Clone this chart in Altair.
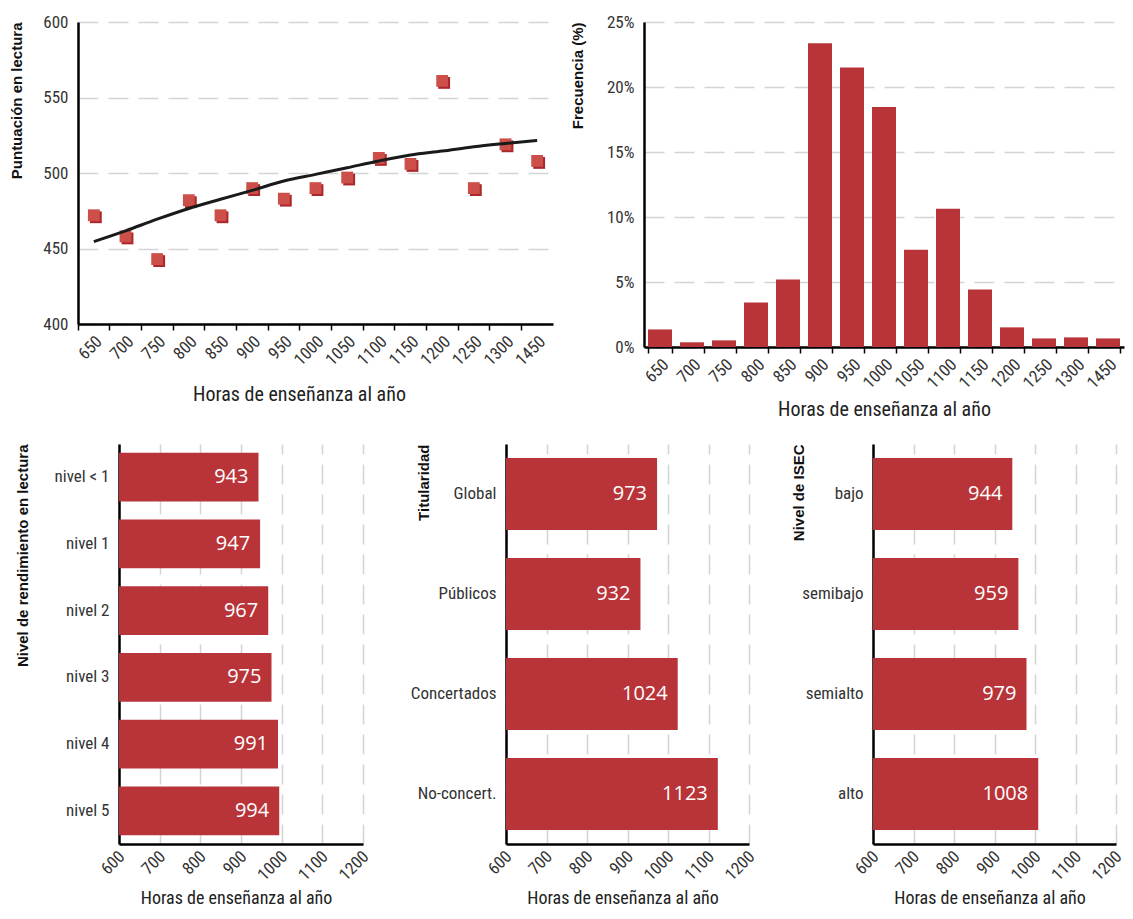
import altair as alt
import pandas as pd

# ---------------- data ----------------
hours = ["650", "700", "750", "800", "850", "900", "950", "1000", "1050",
         "1100", "1150", "1200", "1250", "1300", "1450"]
scores = [472, 458, 443, 482, 472, 490, 483, 490, 497, 510, 506, 561, 490, 519, 508]
trend = [454.6, 461.7, 469.4, 476.5, 482.6, 488.5, 494.7, 499.1, 503.5,
         508.0, 511.9, 514.5, 517.4, 519.6, 521.6]
freq = [1.35, 0.36, 0.51, 3.43, 5.19, 23.37, 21.5, 18.46, 7.49, 10.63,
        4.42, 1.51, 0.66, 0.74, 0.66]

lvl_cats = ["nivel < 1", "nivel 1", "nivel 2", "nivel 3", "nivel 4", "nivel 5"]
lvl_vals = [943, 947, 967, 975, 991, 994]
tit_cats = ["Global", "Públicos", "Concertados", "No-concert."]
tit_vals = [973, 932, 1024, 1123]
isec_cats = ["bajo", "semibajo", "semialto", "alto"]
isec_vals = [944, 959, 979, 1008]

score_ticks = [400, 450, 500, 550, 600]
freq_ticks = [0, 5, 10, 15, 20, 25]
hour_ticks = [600, 700, 800, 900, 1000, 1100, 1200]

# ---------------- style ----------------
RED = "#b83439"
PT = "#cc4f49"
PT_SH = "#ab272b"
FONT = "'Liberation Sans Narrow', 'Roboto Condensed', 'DejaVu Sans Condensed', Roboto, sans-serif"
BOLD = "'Liberation Sans', Arial, sans-serif"
VAL_FONT = "'Open Sans', 'Liberation Sans', sans-serif"
LBL = "#333333"
GRID = "#d4d4d4"
DASH = [20, 10]

XTITLE = "Horas de enseñanza al año"


def spacer(w, h=1):
    return alt.Chart(pd.DataFrame({"v": [0]})).mark_point(opacity=0, size=1).encode(
        x=alt.X("v:Q", axis=None), y=alt.Y("v:Q", axis=None)
    ).properties(width=w, height=h)


# ---------------- panel A: scatter ----------------
WA, HA = 475, 302
scat_df = pd.DataFrame({"h": hours, "score": scores, "trend": trend})

xA = alt.X("h:N", sort=hours,
           scale=alt.Scale(type="band", paddingInner=0, paddingOuter=0),
           axis=alt.Axis(title=XTITLE, bandPosition=0, labelAngle=-45,
                         ticks=True, tickSize=6, tickColor="black", tickWidth=1.5,
                         domainColor="black", domainWidth=2.5, grid=False,
                         labelFont=FONT, labelFontSize=17, labelColor=LBL, labelPadding=3,
                         titleFont=FONT, titleFontSize=20, titleFontWeight="normal",
                         titleColor="#222", titleX=221, titleY=76, titleAlign="center",
                         titleBaseline="alphabetic"))
yA_axis = alt.Axis(values=score_ticks, title="Puntuación en lectura", grid=True,
                   gridDash=DASH, gridColor=GRID, gridWidth=1.5, ticks=False,
                   domainColor="black", domainWidth=2.5,
                   labelFont=FONT, labelFontSize=17, labelColor=LBL, labelPadding=10,
                   titleFont=BOLD, titleFontSize=15, titleFontWeight="bold", titleColor="#111",
                   titleX=-57, titleY=0, titleAlign="right", titleBaseline="alphabetic")
yA_scale = alt.Scale(domain=[400, 600], nice=False, zero=False)

baseA = alt.Chart(scat_df)
shadow = baseA.mark_square(size=140, color=PT_SH, opacity=1, xOffset=2, yOffset=2).encode(
    x=xA, y=alt.Y("score:Q", scale=yA_scale, axis=yA_axis))
front = baseA.mark_square(size=140, color=PT, opacity=1).encode(
    x=xA, y=alt.Y("score:Q", scale=yA_scale, axis=yA_axis))
line = baseA.mark_line(color="#1a1a1a", strokeWidth=3, interpolate="monotone").encode(
    x=xA, y=alt.Y("trend:Q", scale=yA_scale, axis=yA_axis))
panelA = alt.layer(shadow, front, line).properties(width=WA, height=HA)

# ---------------- panel B: histogram ----------------
WB, HB = 480, 325
hist_df = pd.DataFrame({"h": hours, "freq": freq})
panelB = alt.Chart(hist_df).mark_bar(color=RED).encode(
    x=alt.X("h:N", sort=hours,
            scale=alt.Scale(paddingInner=0.25, paddingOuter=0.125),
            axis=alt.Axis(title=XTITLE, tickBand="extent", labelAngle=-45,
                          ticks=True, tickSize=6, tickColor="black", tickWidth=1.5,
                          domainColor="black", domainWidth=2.5, grid=False,
                          labelFont=FONT, labelFontSize=17, labelColor=LBL, labelPadding=3,
                          titleFont=FONT, titleFontSize=20, titleFontWeight="normal",
                          titleColor="#222", titleX=WB / 2, titleY=68, titleAlign="center",
                          titleBaseline="alphabetic")),
    y=alt.Y("freq:Q", scale=alt.Scale(domain=[0, 25], nice=False),
            axis=alt.Axis(values=freq_ticks, labelExpr="datum.value + '%'",
                          title="Frecuencia (%)", grid=True, gridDash=DASH,
                          gridColor=GRID, gridWidth=1.5, ticks=False,
                          domainColor="black", domainWidth=2.5,
                          labelFont=FONT, labelFontSize=17, labelColor=LBL, labelPadding=10,
                          titleFont=BOLD, titleFontSize=15, titleFontWeight="bold",
                          titleColor="#111", titleX=-62, titleY=0, titleAlign="right",
                          titleBaseline="alphabetic")),
).properties(width=WB, height=HB)


# ---------------- bottom panels ----------------
def hbar(cats, vals, ytitle, w, h, tx, pin, pout):
    df = pd.DataFrame({"c": cats, "v": vals})
    y = alt.Y("c:N", sort=cats, scale=alt.Scale(paddingInner=pin, paddingOuter=pout),
              axis=alt.Axis(title=ytitle, ticks=False, domainColor="black", domainWidth=2.5,
                            labelFont=FONT, labelFontSize=17, labelColor=LBL, labelPadding=10,
                            titleFont=BOLD, titleFontSize=15, titleFontWeight="bold",
                            titleColor="#111", titleX=tx, titleY=0, titleAlign="right",
                            titleBaseline="alphabetic"))
    xs = alt.Scale(domain=[600, 1200], nice=False, zero=False)
    xax = alt.Axis(values=hour_ticks, format="d", title=XTITLE, labelAngle=-45, ticks=False,
                   grid=True, gridDash=DASH, gridColor=GRID, gridWidth=1.5,
                   domainColor="black", domainWidth=2.5,
                   labelFont=FONT, labelFontSize=17, labelColor=LBL, labelPadding=4,
                   labelOffset=-3,
                   titleFont=FONT, titleFontSize=18, titleFontWeight="normal",
                   titleColor="#222", titleX=w / 2 - 5, titleY=59, titleAlign="center",
                   titleBaseline="alphabetic")
    base = alt.Chart(df)
    bars = base.mark_bar(color=RED).encode(
        y=y, x=alt.X("v:Q", scale=xs, axis=xax), x2=alt.datum(600))
    txt = base.mark_text(align="right", baseline="middle", dx=-10, color="white",
                         font=VAL_FONT, fontSize=20).encode(
        y=y, x=alt.X("v:Q", scale=xs, axis=xax), text=alt.Text("v:Q"))
    return alt.layer(bars, txt).properties(width=w, height=h)


p1 = hbar(lvl_cats, lvl_vals, "Nivel de rendimiento en lectura", 244, 400, -92, 0.27, 0.13)
p2 = hbar(tit_cats, tit_vals, "Titularidad", 243, 400, -78, 0.28, 0.14)
p3 = hbar(isec_cats, isec_vals, "Nivel de ISEC", 243, 400, -70, 0.28, 0.14)

row1 = alt.hconcat(spacer(69), panelA, spacer(91), panelB, spacing=0, bounds="flush")
row2 = alt.hconcat(spacer(110), p1, spacer(143), p2, spacer(124), p3, spacing=0, bounds="flush")

chart = alt.vconcat(row1, row2, spacing=25).properties(
    padding={"left": 0, "top": 5, "right": 0, "bottom": 0},
    background="white",
).configure_view(stroke=None)

chart.save("out.html", embed_options={"renderer": "svg", "actions": False})
